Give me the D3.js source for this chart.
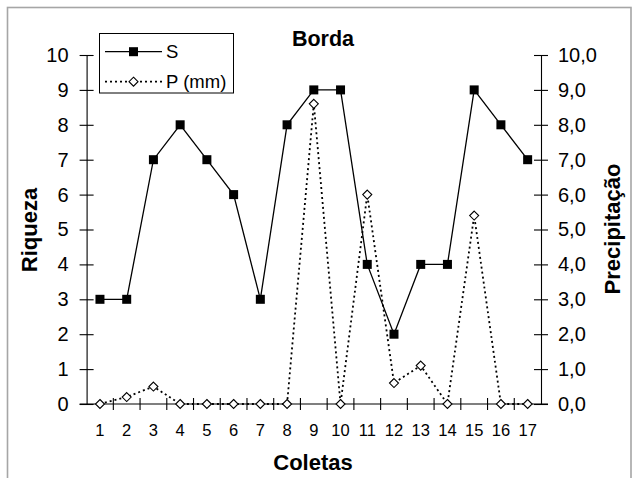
<!DOCTYPE html>
<html>
<head>
<meta charset="utf-8">
<script src="https://cdn.jsdelivr.net/npm/d3@7"></script>
<style>
  html, body { margin: 0; padding: 0; background: #fff; }
  svg { display: block; font-family: "Liberation Sans", Arial, sans-serif; }
</style>
</head>
<body>
<svg id="chart" width="635" height="478"></svg>
<script>
// Collection number (Coletas)
const coletas = ["1","2","3","4","5","6","7","8","9","10","11","12","13","14","15","16","17"];
// Species richness S per collection
const riqueza = [3, 3, 7, 8, 7, 6, 3, 8, 9, 9, 4, 2, 4, 4, 9, 8, 7];
// Precipitation P (mm) per collection
const precipitacao = [0, 0.2, 0.5, 0, 0, 0, 0, 0, 8.6, 0, 6.0, 0.6, 1.1, 0, 5.4, 0, 0];
// Axis tick values
const yTicks = [0, 1, 2, 3, 4, 5, 6, 7, 8, 9, 10];

const svg = d3.select("#chart");
const plotLeft = 86.6, plotRight = 541, plotTop = 55, plotBottom = 404;

const x = d3.scaleBand().domain(coletas).range([plotLeft, plotRight]).padding(0);
const yL = d3.scaleLinear().domain([0, 10]).range([plotBottom, plotTop]);
const yR = d3.scaleLinear().domain([0, 10]).range([plotBottom, plotTop]);
const ptBR = d3.formatLocale({decimal: ",", thousands: ".", grouping: [3], currency: ["R$", ""]});
const fmtR = ptBR.format(".1f");

// outer frame
svg.append("rect")
  .attr("x", 7.5).attr("y", 7.5).attr("width", 623.5).attr("height", 480)
  .attr("fill", "none").attr("stroke", "#a6a6a6").attr("stroke-width", 1.6);

// left axis (crossing ticks)
const gL = svg.append("g").attr("transform", `translate(${plotLeft},0)`)
  .call(d3.axisLeft(yL).tickValues(yTicks).tickSize(7).tickPadding(11).tickSizeOuter(0));
gL.selectAll(".tick line").attr("x1", -7).attr("x2", 7);
gL.selectAll(".tick text").attr("font-size", 20).attr("fill", "#000");

// right axis
const gR = svg.append("g").attr("transform", `translate(${plotRight},0)`)
  .call(d3.axisRight(yR).tickValues(yTicks).tickFormat(fmtR).tickSize(7).tickPadding(10).tickSizeOuter(0));
gR.selectAll(".tick line").attr("x1", -7).attr("x2", 7);
gR.selectAll(".tick text").attr("font-size", 20).attr("fill", "#000");

// bottom axis at zero
const gB = svg.append("g").attr("transform", `translate(0,${plotBottom})`)
  .call(d3.axisBottom(x).tickSize(0).tickPadding(0).tickSizeOuter(0));
gB.select(".domain").attr("d", `M${plotLeft - 7},0H${plotRight + 7}`);
gB.selectAll(".tick text").attr("font-size", 16.5).attr("fill", "#000").attr("y", 20).attr("dy", "0.71em");
// category boundary ticks
gB.selectAll("line.sep").data(coletas.slice(1)).join("line")
  .attr("class", "sep")
  .attr("x1", d => x(d)).attr("x2", d => x(d))
  .attr("y1", -6).attr("y2", 6).attr("stroke", "#000");

[gL, gR, gB].forEach(g => g.selectAll("path.domain, line").attr("stroke", "#000").attr("stroke-width", 1.1));

const cx = d => x(d) + x.bandwidth() / 2;

// precipitation (dotted) line
const lineP = d3.line().x((d, i) => cx(coletas[i])).y(d => yR(d));
svg.append("path").datum(precipitacao)
  .attr("d", lineP).attr("fill", "none").attr("stroke", "#000")
  .attr("stroke-width", 1.8).attr("stroke-dasharray", "2,3");

// richness (solid) line
const lineS = d3.line().x((d, i) => cx(coletas[i])).y(d => yL(d));
svg.append("path").datum(riqueza)
  .attr("d", lineS).attr("fill", "none").attr("stroke", "#000").attr("stroke-width", 1.3);

const diamond = (px, py, r) => `M${px},${py - r}L${px + r},${py}L${px},${py + r}L${px - r},${py}Z`;

// precipitation markers
svg.selectAll("path.pm").data(precipitacao).join("path")
  .attr("class", "pm")
  .attr("d", (d, i) => diamond(cx(coletas[i]), yR(d), 4.5))
  .attr("fill", "#fff").attr("stroke", "#000").attr("stroke-width", 1.1);

// richness markers
svg.selectAll("rect.sm").data(riqueza).join("rect")
  .attr("class", "sm")
  .attr("x", (d, i) => cx(coletas[i]) - 4.5).attr("y", d => yL(d) - 4.5)
  .attr("width", 9).attr("height", 9).attr("fill", "#000");

// title
svg.append("text").attr("x", 323).attr("y", 45.5).attr("text-anchor", "middle")
  .attr("font-size", 21.5).attr("font-weight", "bold").text("Borda");

// axis titles
svg.append("text").attr("x", 313).attr("y", 470).attr("text-anchor", "middle")
  .attr("font-size", 22).attr("font-weight", "bold").text("Coletas");
svg.append("text").attr("transform", "translate(37,230) rotate(-90)").attr("text-anchor", "middle")
  .attr("font-size", 22).attr("font-weight", "bold").text("Riqueza");
svg.append("text").attr("transform", "translate(620,229) rotate(-90)").attr("text-anchor", "middle")
  .attr("font-size", 22).attr("font-weight", "bold").text("Precipitação");

// legend
const lg = svg.append("g");
lg.append("rect").attr("x", 99.5).attr("y", 33.5).attr("width", 134).attr("height", 59.5)
  .attr("fill", "#fff").attr("stroke", "#000").attr("stroke-width", 1);
lg.append("line").attr("x1", 105).attr("x2", 162).attr("y1", 51.7).attr("y2", 51.7)
  .attr("stroke", "#000").attr("stroke-width", 1.3);
lg.append("rect").attr("x", 133.5 - 4.5).attr("y", 51.7 - 4.5).attr("width", 9).attr("height", 9).attr("fill", "#000");
lg.append("line").attr("x1", 105).attr("x2", 162).attr("y1", 81.7).attr("y2", 81.7)
  .attr("stroke", "#000").attr("stroke-width", 1.8).attr("stroke-dasharray", "2,3");
lg.append("path").attr("d", diamond(133.5, 81.7, 4.5)).attr("fill", "#fff").attr("stroke", "#000").attr("stroke-width", 1.1);
lg.append("text").attr("x", 166).attr("y", 58).attr("font-size", 18.5).text("S");
lg.append("text").attr("x", 166).attr("y", 88).attr("font-size", 18.5).text("P (mm)");
</script>
</body>
</html>
